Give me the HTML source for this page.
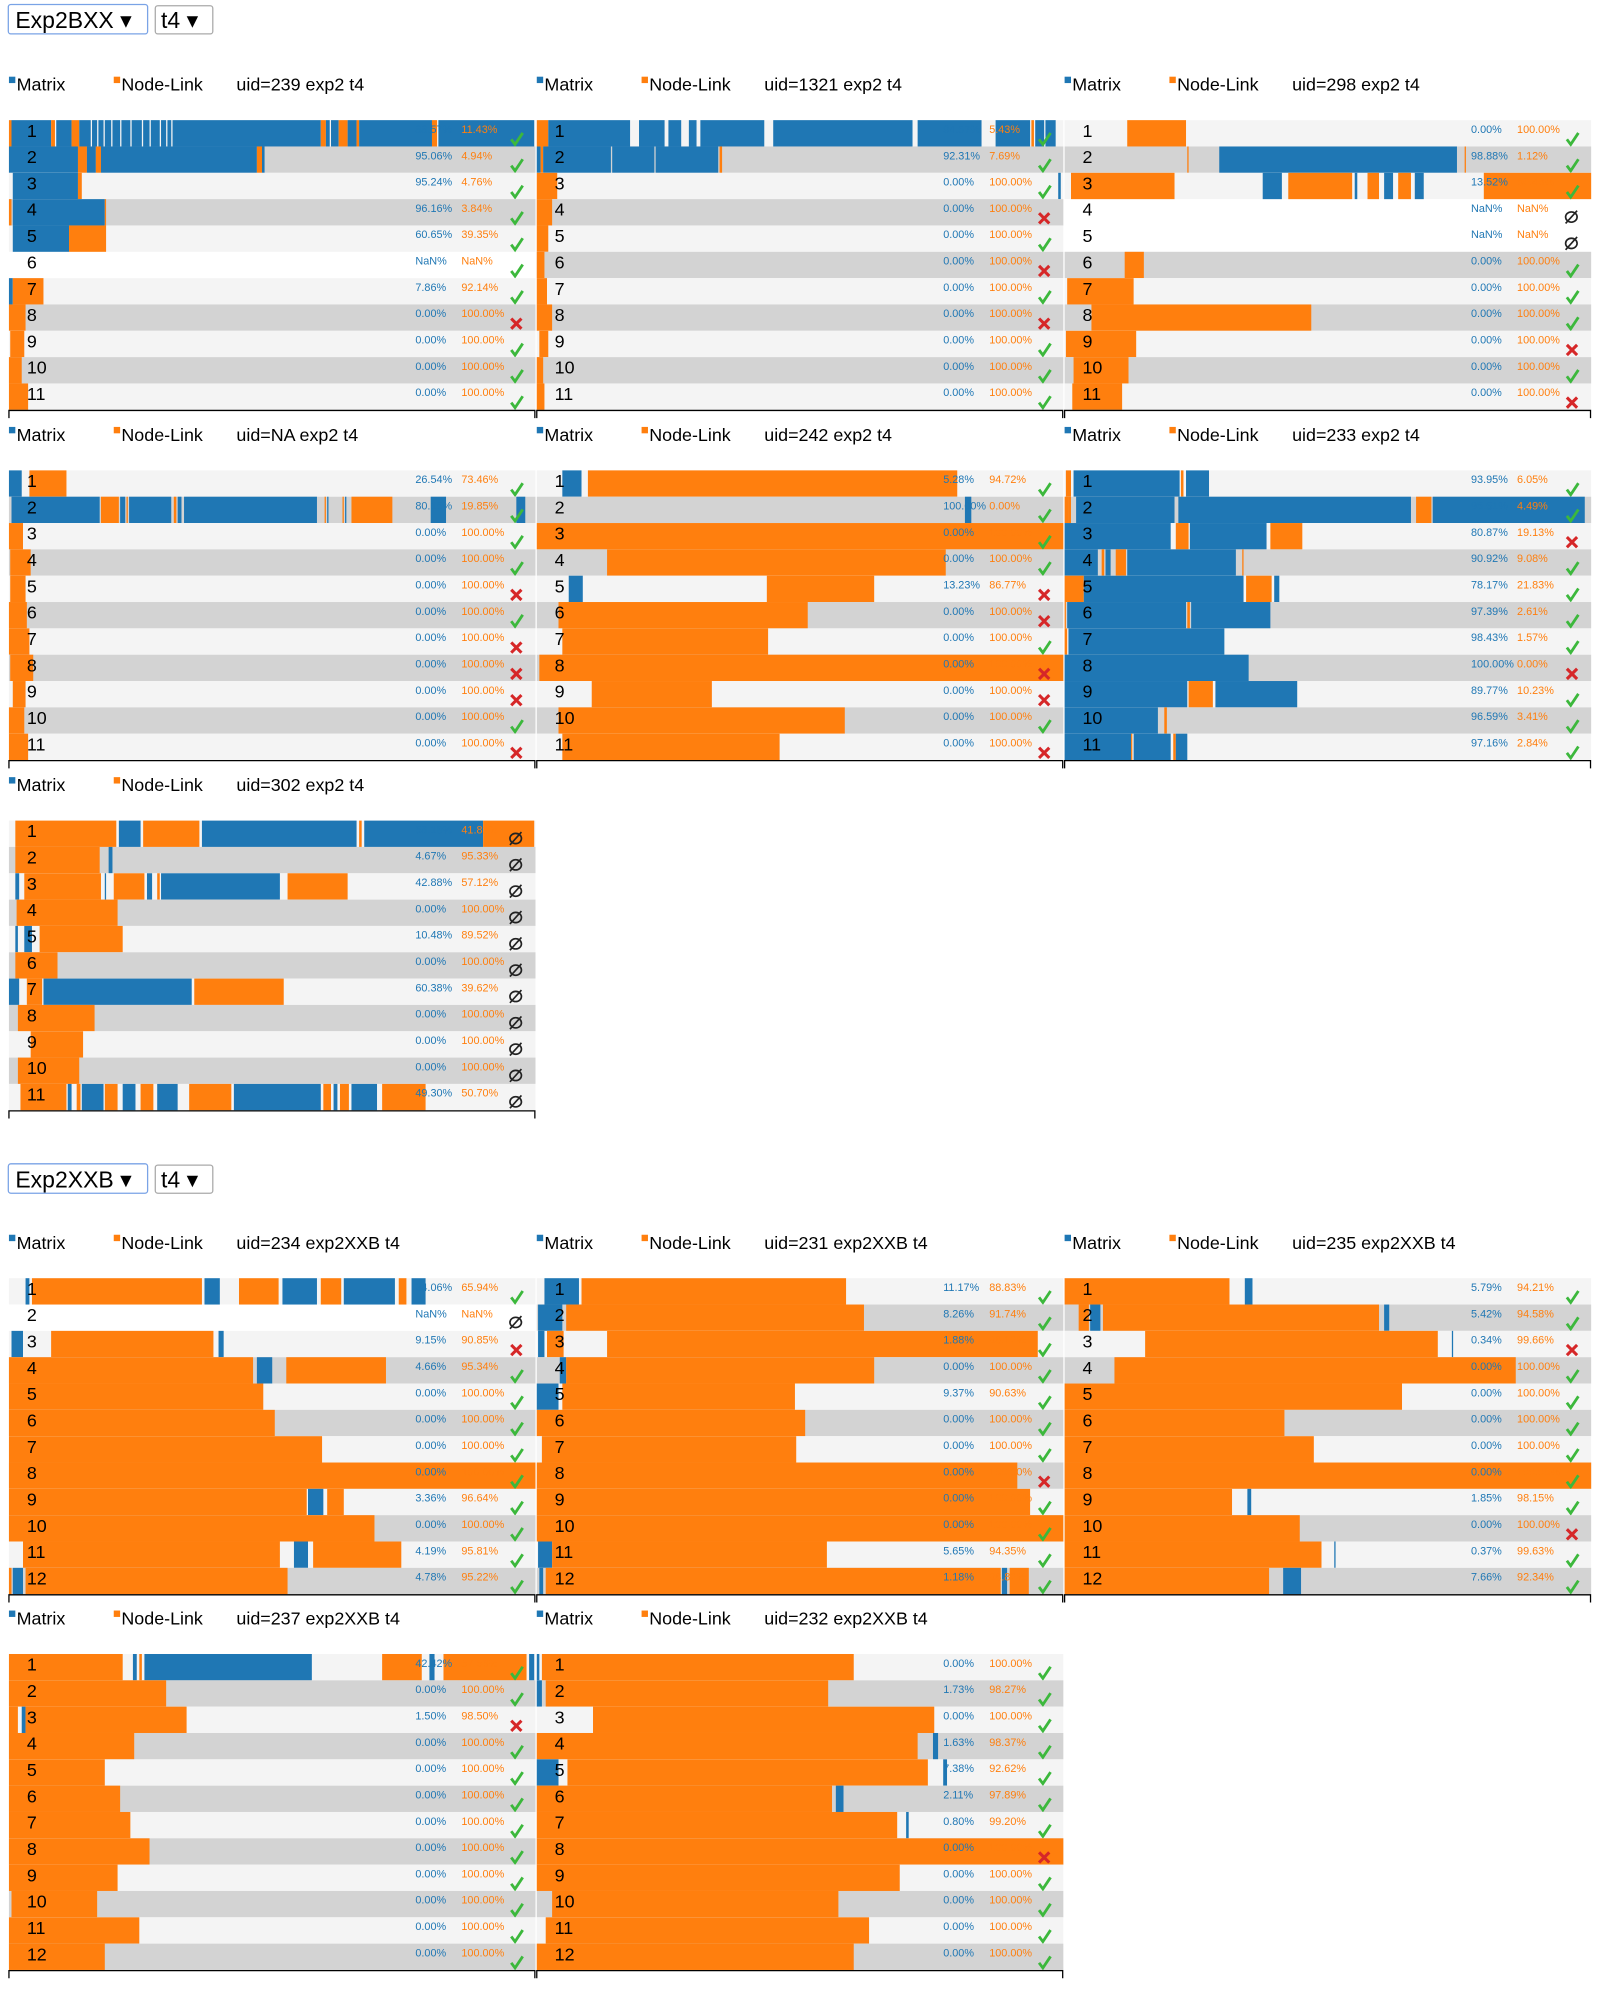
<!DOCTYPE html>
<html><head><meta charset="utf-8">
<style>
html,body{margin:0;padding:0;background:#fff;}
svg{display:block;font-family:"Liberation Sans",Arial,sans-serif;}
</style></head>
<body>
<svg id="chart" width="1618" height="1994" viewBox="0 0 1266 1560" preserveAspectRatio="none" xmlns="http://www.w3.org/2000/svg">
  <g>
    <rect x="6.5" y="3.5" width="109" height="23" rx="2" fill="#fff" stroke="#7aa3e6" stroke-width="1"/>
    <text x="12" y="22" font-size="18" fill="#000">Exp2BXX ▾</text>
  </g>
  <g>
    <rect x="121.5" y="4.5" width="45" height="22" rx="2" fill="#fff" stroke="#aaa" stroke-width="1"/>
    <text x="126" y="22" font-size="18" fill="#000">t4 ▾</text>
  </g>
  <g>
    <rect x="6.5" y="910.5" width="109" height="23" rx="2" fill="#fff" stroke="#7aa3e6" stroke-width="1"/>
    <text x="12" y="929" font-size="18" fill="#000">Exp2XXB ▾</text>
  </g>
  <g>
    <rect x="121.5" y="911.5" width="45" height="22" rx="2" fill="#fff" stroke="#aaa" stroke-width="1"/>
    <text x="126" y="929" font-size="18" fill="#000">t4 ▾</text>
  </g>
</svg>
<script>
// ---- data: panel titles, layout slots, segments [start,end,type] in time units (0..412), percents, outcomes ----
const panelTitles = ["uid=239 exp2 t4","uid=1321 exp2 t4","uid=298 exp2 t4","uid=NA exp2 t4","uid=242 exp2 t4","uid=233 exp2 t4","uid=302 exp2 t4","uid=234 exp2XXB t4","uid=231 exp2XXB t4","uid=235 exp2XXB t4","uid=237 exp2XXB t4","uid=232 exp2XXB t4"];
const panelCol = [0,1,2,0,1,2,0,0,1,2,0,1];
const panelGroup = [0,0,0,1,1,1,2,3,3,3,4,4];

const seg239 = [
 [[0,2,'n'],[2,33,'m'],[33,36,'n'],[37,49,'m'],[49,55,'n'],[55,64,'m'],[65,69,'m'],[70,74,'m'],[75,80,'m'],[81,87,'m'],[88,95,'m'],[96,104,'m'],[105,110,'m'],[111,118,'m'],[119,123,'m'],[124,127,'m'],[128,244,'m'],[244,248,'n'],[248,251,'m'],[252,258,'m'],[258,265,'n'],[265,272,'m'],[272,274,'n'],[274,331,'m'],[331,335,'n'],[336,411,'m']],
 [[0,54,'m'],[54,61,'n'],[61,68,'m'],[68,72,'n'],[72,194,'m'],[194,198,'n'],[198,200,'m']],
 [[3,54,'m'],[54,57,'n']],
 [[0,2,'n'],[3,75,'m'],[75,76,'n']],
 [[3,47,'m'],[47,76,'n']],
 [],
 [[0,3,'m'],[3,27,'n']],
 [[0,13,'n']],[[1,12,'n']],[[0,10,'n']],[[0,15,'n']]
];
const seg1321 = [
 [[0,9,'n'],[9,73,'m'],[80,100,'m'],[103,113,'m'],[119,125,'m'],[128,178,'m'],[185,294,'m'],[298,348,'m'],[359,386,'m'],[387,389,'n'],[390,397,'m'],[398,406,'m']],
 [[0,3,'m'],[3,5,'n'],[5,58,'m'],[59,92,'m'],[93,142,'m'],[143,145,'n']],
 [[0,16,'n'],[408,410,'m']],
 [[0,12,'n']],[[0,9,'n']],[[0,6,'n']],[[0,8,'n']],[[0,12,'n']],[[2,9,'n']],[[0,5,'n']],[[0,6,'n']]
];
const seg298 = [
 [[49,95,'n']],
 [[96,97,'n'],[121,307,'m'],[313,314,'n']],
 [[5,86,'n'],[155,170,'m'],[175,225,'n'],[227,229,'m'],[237,246,'n'],[250,257,'m'],[261,271,'n'],[274,281,'m'],[328,412,'n']],
 [],[],
 [[47,62,'n']],[[2,54,'n']],[[21,193,'n']],[[1,56,'n']],[[7,50,'n']],[[6,45,'n']]
];
const segNA = [
 [[0,10,'m'],[16,45,'n']],
 [[2,71,'m'],[72,86,'n'],[87,91,'m'],[92,93,'n'],[94,127,'m'],[129,131,'n'],[132,135,'m'],[137,241,'m'],[247,248,'n'],[249,250,'m'],[261,262,'n'],[263,264,'m'],[268,300,'n'],[330,342,'m'],[397,404,'m']],
 [[0,11,'n']],[[1,17,'n']],[[1,13,'n']],[[0,14,'n']],[[0,16,'n']],[[1,19,'n']],[[3,13,'n']],[[0,12,'n']],[[0,15,'n']]
];
const seg242 = [
 [[20,35,'m'],[40,329,'n']],
 [[335,340,'m']],
 [[0,412,'n']],
 [[55,320,'n']],
 [[25,36,'m'],[180,264,'n']],
 [[17,212,'n']],[[20,181,'n']],[[2,412,'n']],[[43,137,'n']],[[17,241,'n']],[[20,190,'n']]
];
const seg233 = [
 [[1,5,'n'],[7,90,'m'],[91,93,'n'],[95,113,'m']],
 [[0,3,'n'],[3,5,'n'],[9,86,'m'],[89,271,'m'],[275,287,'n'],[288,407,'m']],
 [[0,83,'m'],[87,97,'n'],[98,158,'m'],[161,186,'n']],
 [[0,26,'m'],[29,31,'n'],[32,36,'m'],[40,48,'n'],[49,134,'m'],[139,140,'n']],
 [[0,15,'n'],[15,140,'m'],[142,162,'n'],[164,168,'m']],
 [[0,1,'n'],[2,95,'m'],[96,98,'n'],[99,161,'m']],
 [[0,2,'n'],[3,125,'m']],
 [[0,144,'m']],
 [[0,96,'m'],[97,116,'n'],[118,182,'m']],
 [[0,73,'m'],[78,80,'n']],
 [[0,52,'m'],[52,53,'n'],[54,83,'m'],[85,87,'n'],[87,96,'m']]
];
const seg302 = [
 [[5,84,'n'],[86,103,'m'],[105,149,'n'],[151,272,'m'],[274,276,'n'],[278,371,'m'],[371,411,'n']],
 [[5,71,'n'],[78,81,'m']],
 [[5,8,'m'],[12,72,'n'],[75,76,'m'],[82,106,'n'],[108,112,'m'],[116,118,'n'],[119,212,'m'],[218,265,'n']],
 [[6,85,'n']],
 [[5,7,'m'],[12,18,'m'],[24,89,'n']],
 [[5,38,'n']],
 [[0,8,'m'],[14,26,'n'],[27,143,'m'],[145,215,'n']],
 [[7,67,'n']],[[17,58,'n']],[[7,55,'n']],
 [[9,45,'n'],[46,49,'m'],[53,56,'n'],[57,74,'m'],[75,85,'n'],[89,99,'m'],[103,113,'n'],[116,132,'m'],[141,174,'n'],[176,244,'m'],[246,252,'n'],[254,257,'m'],[259,266,'n'],[268,288,'m'],[292,326,'n']]
];
const seg234 = [
 [[13,16,'m'],[18,151,'n'],[153,165,'m'],[180,211,'n'],[214,241,'m'],[244,260,'n'],[262,302,'m'],[305,311,'n'],[315,326,'m']],
 [],
 [[2,11,'m'],[33,160,'n'],[164,168,'m']],
 [[0,191,'n'],[194,206,'m'],[217,295,'n']],
 [[0,199,'n']],[[0,208,'n']],[[0,245,'n']],[[0,412,'n']],
 [[0,233,'n'],[234,246,'m'],[249,262,'n']],
 [[0,286,'n']],
 [[11,212,'n'],[223,234,'m'],[238,307,'n']],
 [[0,2,'n'],[3,11,'m'],[13,218,'n']]
];
const seg231 = [
 [[6,33,'m'],[35,242,'n']],
 [[1,20,'m'],[23,256,'n']],
 [[1,6,'m'],[8,21,'n'],[55,392,'n']],
 [[18,23,'m'],[23,264,'n']],
 [[0,17,'m'],[20,202,'n']],
 [[0,210,'n']],[[4,203,'n']],[[0,376,'n']],[[0,386,'n']],[[0,412,'n']],
 [[1,12,'m'],[12,227,'n']],
 [[2,5,'m'],[7,363,'n'],[364,368,'m'],[370,385,'n']]
];
const seg235 = [
 [[0,129,'n'],[141,147,'m']],
 [[11,19,'n'],[20,28,'m'],[30,246,'n'],[250,254,'m']],
 [[63,292,'n'],[303,304,'m']],
 [[39,353,'n']],
 [[0,264,'n']],[[0,172,'n']],[[0,195,'n']],[[0,412,'n']],
 [[0,131,'n'],[143,146,'m']],
 [[0,184,'n']],
 [[0,201,'n'],[211,212,'m']],
 [[0,160,'n'],[171,185,'m']]
];
const seg237 = [
 [[0,89,'n'],[97,100,'m'],[102,104,'n'],[106,237,'m'],[292,323,'n'],[329,333,'m'],[340,405,'n'],[407,411,'m']],
 [[0,123,'n']],
 [[0,7,'n'],[10,13,'m'],[13,139,'n']],
 [[0,98,'n']],[[0,75,'n']],[[0,87,'n']],[[0,95,'n']],[[0,110,'n']],[[0,85,'n']],[[2,69,'n']],[[0,102,'n']],[[0,75,'n']]
];
const seg232 = [
 [[0,2,'m'],[4,248,'n']],
 [[0,4,'m'],[7,228,'n']],
 [[44,311,'n']],
 [[0,298,'n'],[310,314,'m']],
 [[0,17,'m'],[24,306,'n'],[318,321,'m']],
 [[0,231,'n'],[234,240,'m']],
 [[0,282,'n'],[289,291,'m']],
 [[0,412,'n']],[[0,284,'n']],[[12,236,'n']],[[7,260,'n']],[[0,248,'n']]
];
const segments = [seg239,seg1321,seg298,segNA,seg242,seg233,seg302,seg234,seg231,seg235,seg237,seg232];

const matrixPct = [
 ["88.57%","95.06%","95.24%","96.16%","60.65%","NaN%","7.86%","0.00%","0.00%","0.00%","0.00%"],
 ["94.57%","92.31%","0.00%","0.00%","0.00%","0.00%","0.00%","0.00%","0.00%","0.00%","0.00%"],
 ["0.00%","98.88%","13.52%","NaN%","NaN%","0.00%","0.00%","0.00%","0.00%","0.00%","0.00%"],
 ["26.54%","80.15%","0.00%","0.00%","0.00%","0.00%","0.00%","0.00%","0.00%","0.00%","0.00%"],
 ["5.28%","100.00%","0.00%","0.00%","13.23%","0.00%","0.00%","0.00%","0.00%","0.00%","0.00%"],
 ["93.95%","95.51%","80.87%","90.92%","78.17%","97.39%","98.43%","100.00%","89.77%","96.59%","97.16%"],
 ["58.18%","4.67%","42.88%","0.00%","10.48%","0.00%","60.38%","0.00%","0.00%","0.00%","49.30%"],
 ["34.06%","NaN%","9.15%","4.66%","0.00%","0.00%","0.00%","0.00%","3.36%","0.00%","4.19%","4.78%"],
 ["11.17%","8.26%","1.88%","0.00%","9.37%","0.00%","0.00%","0.00%","0.00%","0.00%","5.65%","1.18%"],
 ["5.79%","5.42%","0.34%","0.00%","0.00%","0.00%","0.00%","0.00%","1.85%","0.00%","0.37%","7.66%"],
 ["42.42%","0.00%","1.50%","0.00%","0.00%","0.00%","0.00%","0.00%","0.00%","0.00%","0.00%","0.00%"],
 ["0.00%","1.73%","0.00%","1.63%","7.38%","2.11%","0.80%","0.00%","0.00%","0.00%","0.00%","0.00%"]
];
const nodeLinkPct = [
 ["11.43%","4.94%","4.76%","3.84%","39.35%","NaN%","92.14%","100.00%","100.00%","100.00%","100.00%"],
 ["5.43%","7.69%","100.00%","100.00%","100.00%","100.00%","100.00%","100.00%","100.00%","100.00%","100.00%"],
 ["100.00%","1.12%","86.48%","NaN%","NaN%","100.00%","100.00%","100.00%","100.00%","100.00%","100.00%"],
 ["73.46%","19.85%","100.00%","100.00%","100.00%","100.00%","100.00%","100.00%","100.00%","100.00%","100.00%"],
 ["94.72%","0.00%","100.00%","100.00%","86.77%","100.00%","100.00%","100.00%","100.00%","100.00%","100.00%"],
 ["6.05%","4.49%","19.13%","9.08%","21.83%","2.61%","1.57%","0.00%","10.23%","3.41%","2.84%"],
 ["41.82%","95.33%","57.12%","100.00%","89.52%","100.00%","39.62%","100.00%","100.00%","100.00%","50.70%"],
 ["65.94%","NaN%","90.85%","95.34%","100.00%","100.00%","100.00%","100.00%","96.64%","100.00%","95.81%","95.22%"],
 ["88.83%","91.74%","98.12%","100.00%","90.63%","100.00%","100.00%","100.00%","100.00%","100.00%","94.35%","98.82%"],
 ["94.21%","94.58%","99.66%","100.00%","100.00%","100.00%","100.00%","100.00%","98.15%","100.00%","99.63%","92.34%"],
 ["57.58%","100.00%","98.50%","100.00%","100.00%","100.00%","100.00%","100.00%","100.00%","100.00%","100.00%","100.00%"],
 ["100.00%","98.27%","100.00%","98.37%","92.62%","97.89%","99.20%","100.00%","100.00%","100.00%","100.00%","100.00%"]
];
// c = correct, x = wrong, o = no answer
const outcomes = [
 "cccccccxccc","cccxcxcxccc","cccoocccxcx","ccccxcxxxcx","ccccxxcxxcx","ccxccccxccc",
 "ooooooooooo","coxccccccccc","cccccccxcccc","ccxccccccxcc","ccxccccccccc","cccccccxcccc"
];

// ---- layout ----
const NS = "http://www.w3.org/2000/svg";
const svg = document.getElementById('chart');
const colX = [7,420,833];
const groupTop = [94,368,642,1000,1294];
const PANEL_W = 412, ROW_H = 20.6;
const BLUE = "#1f77b4", ORANGE = "#ff7f0e";
const xScale = (x0, t) => x0 + t * PANEL_W / 412;

function mk(tag, attrs, parent) {
  const el = document.createElementNS(NS, tag);
  for (const k in attrs) el.setAttribute(k, attrs[k]);
  parent.appendChild(el);
  return el;
}

segments.forEach((rows, p) => {
  const x0 = colX[panelCol[p]];
  const y0 = groupTop[panelGroup[p]];
  const g = mk('g', {}, svg);
  
  

  // legend
  const lg = mk('g', {}, g);
  
  
  const lm = mk('rect', {x: x0, y: y0 - 34, width: 5, height: 5, fill: BLUE}, lg);
  
  
  const lmt = mk('text', {x: x0 + 6, y: y0 - 23, 'font-size': 14, fill: '#000'}, lg);
  lmt.textContent = 'Matrix';
  
  
  const ln = mk('rect', {x: x0 + 82, y: y0 - 34, width: 5, height: 5, fill: ORANGE}, lg);
  
  
  const lnt = mk('text', {x: x0 + 88, y: y0 - 23, 'font-size': 14, fill: '#000'}, lg);
  lnt.textContent = 'Node-Link';
  
  
  const tt = mk('text', {x: x0 + 178, y: y0 - 23, 'font-size': 14, fill: '#000'}, g);
  tt.textContent = panelTitles[p];
  
  

  rows.forEach((row, r) => {
    const ry = y0 + r * ROW_H;
    const isNaN_ = matrixPct[p][r] === 'NaN%';
    if (!isNaN_) {
      const bg = mk('rect', {x: x0, y: ry, width: PANEL_W, height: ROW_H, fill: r % 2 === 0 ? '#f4f4f4' : '#d3d3d3'}, g);
      
      
    }
    row.forEach(s => {
      const a = xScale(x0, s[0]), b = xScale(x0, s[1]);
      const rc = mk('rect', {x: a, y: ry, width: Math.max(0.8, b - a), height: ROW_H, fill: s[2] === 'm' ? BLUE : ORANGE}, g);
      
      
    });
    const lbl = mk('text', {x: x0 + 14, y: ry + 13, 'font-size': 14, fill: '#000'}, g);
    lbl.textContent = String(r + 1);
    
    
    const mp = mk('text', {x: x0 + 318, y: ry + 10, 'font-size': 8.5, fill: BLUE}, g);
    mp.textContent = matrixPct[p][r];
    
    
    const np = mk('text', {x: x0 + 354, y: ry + 10, 'font-size': 8.5, fill: ORANGE}, g);
    np.textContent = nodeLinkPct[p][r];
    
    

    const o = outcomes[p][r];
    const ix = x0 + 397, iy = ry + 15;
    let ic;
    if (o === 'c') {
      ic = mk('path', {d: `M${ix-4},${iy} L${ix-1},${iy+4} L${ix+5},${iy-5}`, fill: 'none', stroke: '#3cb83c', 'stroke-width': 2.2}, g);
      
    } else if (o === 'x') {
      ic = mk('path', {d: `M${ix-4},${iy-4} L${ix+4},${iy+4} M${ix+4},${iy-4} L${ix-4},${iy+4}`, fill: 'none', stroke: '#d62728', 'stroke-width': 2.4}, g);
      
    } else {
      ic = mk('path', {d: `M${ix+4},${iy-1} a4.5,4 0 1,1 -9,0 a4.5,4 0 1,1 9,0 M${ix-5},${iy+4} L${ix+4},${iy-6}`, fill: 'none', stroke: '#222', 'stroke-width': 1.3}, g);
      
    }
    
  });

  const ay = y0 + rows.length * ROW_H + 0.5;
  const ax = mk('path', {d: `M${x0},${ay+6} L${x0},${ay} L${x0 + PANEL_W - 0.5},${ay} L${x0 + PANEL_W - 0.5},${ay+6}`, fill: 'none', stroke: '#000', 'stroke-width': 1}, g);
  
  
});
</script>
</body></html>
